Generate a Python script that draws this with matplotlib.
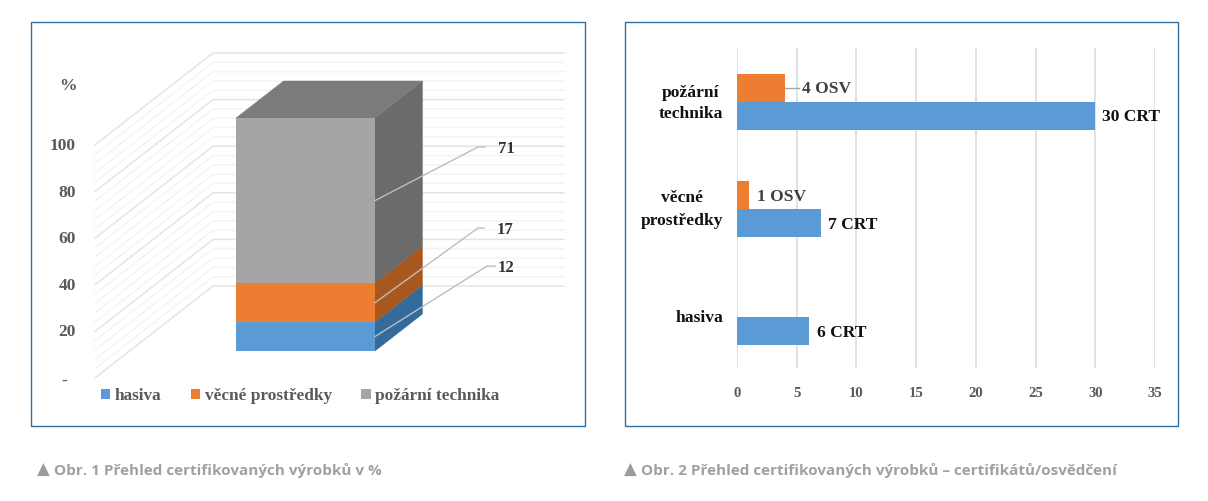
import matplotlib
matplotlib.use("Agg")
import matplotlib.pyplot as plt
from matplotlib.patches import Polygon, Rectangle, Patch

W, H = 1208, 501
SERIF = "Liberation Serif"
BLUE, ORANGE, GRAY = "#5b9bd5", "#ed7d31", "#a5a5a5"
BLUE_SIDE, ORANGE_SIDE, GRAY_SIDE = "#336c9c", "#a8581f", "#6b6b6b"
GRAY_TOP = "#7b7b7b"
FRAME = "#2f6f9f"
TXT = "#595959"

# --- data, figure 1
series1 = ["hasiva", "věcné prostředky", "požární technika"]
percent = [12, 17, 71]
percent_drawn = [12.4, 16.7, 70.9]
ticks1 = [20, 40, 60, 80, 100]
ticklabels1 = ["20", "40", "60", "80", "100"]
# --- data, figure 2
cats2 = ["hasiva", "věcné prostředky", "požární technika"]
crt = [6, 7, 30]
osv = [0, 1, 4]
ticks2 = [0, 5, 10, 15, 20, 25, 30, 35]


def fx(x):
    return x / W


def fy(y):
    return 1 - y / H


fig = plt.figure(figsize=(W / 100, H / 100), dpi=100, facecolor="white")
for x0, x1 in [(31, 585), (625, 1178)]:
    fig.add_artist(Rectangle((fx(x0), fy(426)), (x1 - x0) / W, 404 / H, transform=fig.transFigure,
                             fc="white", ec=FRAME, lw=1.0, zorder=-1))


def ptext(x, y, s, **kw):
    kw.setdefault("family", SERIF)
    kw.setdefault("weight", "bold")
    kw.setdefault("va", "center")
    fig.text(fx(x), fy(y), s, **kw)


# ---------- Figure 1: pseudo-3D stacked column ----------
PX = 2.33                 # pixels per percent
ax1 = fig.add_axes([fx(32), fy(425), 552 / W, 402 / H], facecolor="none")
ax1.set_xlim(32, 584)
ax1.set_ylim(-(425 - 351) / PX, (351 - 23) / PX)
ax1.axis("off")

BACK_V = 65 / PX          # back wall lift above the bar's front plane
AXIS_V = -27 / PX         # front axis drop below the bar's front plane
for v in range(0, 101, 4):
    major = v % 20 == 0
    ax1.plot([95, 213, 564], [v + AXIS_V, v + BACK_V, v + BACK_V],
             color="#e4e4e4" if major else "#f4f4f4", lw=1.1, zorder=1, solid_joinstyle="miter")

BL, BR = 236, 375
DX, DV = 47.5, 37 / PX
base = 0
cols = [(BLUE, BLUE_SIDE), (ORANGE, ORANGE_SIDE), (GRAY, GRAY_SIDE)]
mids = []
for val, (c, side) in zip(percent_drawn, cols):
    top = base + val
    ax1.add_patch(Polygon([(BR, base), (BR + DX, base + DV), (BR + DX, top + DV), (BR, top)],
                          fc=side, ec=side, lw=0.3, zorder=3))
    ax1.bar((BL + BR) / 2, val, BR - BL, bottom=base, color=c, zorder=4, lw=0)
    mids.append(base + val / 2)
    base = top
ax1.add_patch(Polygon([(BL, base), (BL + DX, base + DV), (BR + DX, base + DV), (BR, base)],
                      fc=GRAY_TOP, ec=GRAY_TOP, lw=0.3, zorder=3))

# leader lines and data labels
elbow_x = [(487, 495), (478, 484), (478, 485)]
elbow_y = [266, 228, 147]
label_x = [506, 505, 506]
for m, (ex0, ex1), ey, lx, p in zip(mids, elbow_x, elbow_y, label_x, percent):
    ev = (351 - ey) / PX
    ax1.plot([BR, ex0, ex1], [m, ev, ev], color="#bdbdbd", lw=1.0, zorder=5)
    ptext(lx, ey + 2, str(p), color="#333333", fontsize=12, ha="center")

for t, lab in zip(ticks1, ticklabels1):
    ptext(76, 379 - PX * t, lab, color=TXT, fontsize=12.6, ha="right")
ptext(64, 382, "-", color=TXT, fontsize=12.6, ha="center")
ptext(77, 86, "%", color=TXT, fontsize=12.6, ha="right")

handles = [Patch(fc=c, label=s) for (c, _), s in zip(cols, series1)]
fig.legend(handles=handles, loc="center left", bbox_to_anchor=(fx(94), fy(396)), ncol=3, frameon=False,
           handlelength=0.55, handleheight=0.55, handletextpad=0.25, columnspacing=1.71, borderaxespad=0,
           labelcolor=TXT, prop={"family": SERIF, "weight": "bold", "size": 12.4})

# ---------- Figure 2: horizontal bars ----------
UNIT_Y = 107.2
ax2 = fig.add_axes([fx(737), fy(368), (1155 - 737) / W, 320 / H], facecolor="none")
ax2.set_xlim(0, 35)
ax2.set_ylim(-(368 - 316.5) / UNIT_Y, (316.5 - 48) / UNIT_Y)
BH = 28 / UNIT_Y
ypos = list(range(len(cats2)))
ax2.barh([y - BH / 2 for y in ypos], crt, height=BH, color=BLUE, zorder=3, lw=0, align="center")
ax2.barh([y + BH / 2 for y in ypos], osv, height=BH, color=ORANGE, zorder=3, lw=0, align="center")
ax2.set_xticks(ticks2)
ax2.set_yticks([])
ax2.grid(axis="x", color="#dddddd", lw=1.2, zorder=0)
ax2.set_axisbelow(True)
for s in ax2.spines.values():
    s.set_visible(False)
ax2.tick_params(axis="x", length=0, pad=14)
for lab in ax2.get_xticklabels():
    lab.set_family(SERIF)
    lab.set_weight("bold")
    lab.set_color(TXT)
    lab.set_fontsize(10.6)
ax2.plot([osv[2], osv[2] + 1.15], [2 + 0.13] * 2, color="#a6a6a6", lw=1.0, zorder=2)

ptext(1102, 117, f"{crt[2]} CRT", color="#111111", fontsize=12.6)
ptext(802, 89, f"{osv[2]} OSV", color="#404040", fontsize=12.6)
ptext(828, 225, f"{crt[1]} CRT", color="#111111", fontsize=12.6)
ptext(757, 197, f"{osv[1]} OSV", color="#404040", fontsize=12.6)
ptext(817, 333, f"{crt[0]} CRT", color="#111111", fontsize=12.6)

ptext(691, 93, "požární", color="#111111", fontsize=12.6, ha="center")
ptext(691, 114, "technika", color="#111111", fontsize=12.6, ha="center")
ptext(682, 198, "věcné", color="#111111", fontsize=12.6, ha="center")
ptext(682, 221, "prostředky", color="#111111", fontsize=12.6, ha="center")
ptext(699.5, 318, "hasiva", color="#111111", fontsize=12.6, ha="center")

# ---------- captions ----------
CAP = ["Noto Sans", "DejaVu Sans"]
ptext(37, 471, "▲", family=CAP, weight="normal", color="#9b9b9b", fontsize=12)
ptext(54, 471, "Obr. 1 Přehled certifikovaných výrobků v %", family="Open Sans", weight="bold",
      color="#a0a0a0", fontsize=11)
ptext(624, 471, "▲", family=CAP, weight="normal", color="#9b9b9b", fontsize=12)
ptext(641, 471, "Obr. 2 Přehled certifikovaných výrobků – certifikátů/osvědčení", family="Open Sans",
      weight="bold", color="#a0a0a0", fontsize=11)

fig.savefig("out.png", dpi=100)
